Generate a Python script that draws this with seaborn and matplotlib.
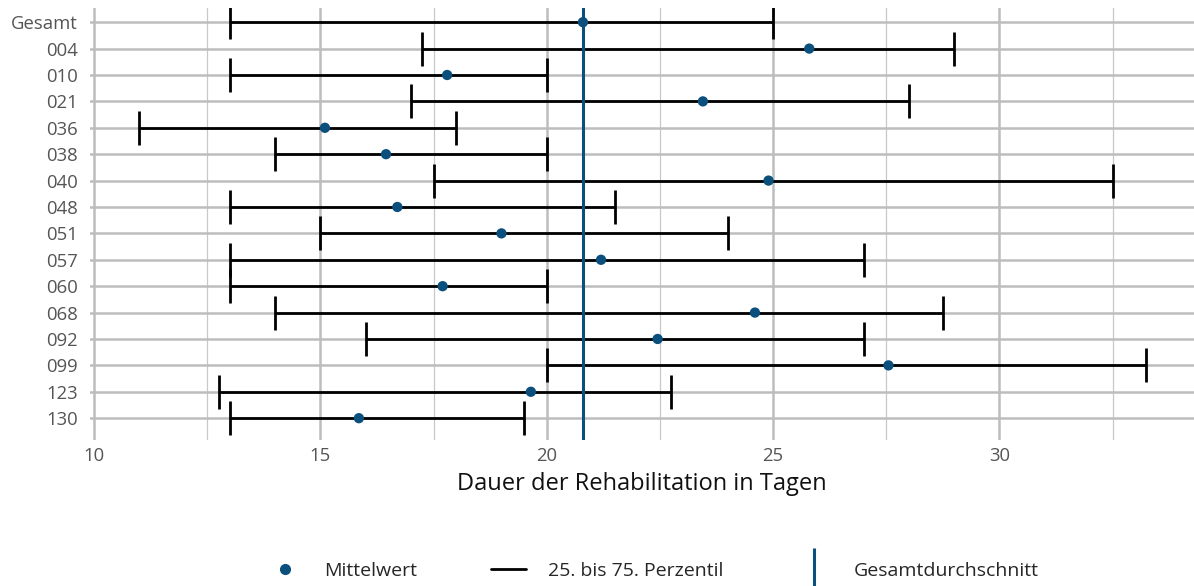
import numpy as np
import pandas as pd
import matplotlib
matplotlib.use("Agg")
import matplotlib.pyplot as plt
import seaborn as sns
from matplotlib.lines import Line2D

###############################################################################
# data
###############################################################################
kliniken = ["Gesamt", "004", "010", "021", "036", "038", "040", "048",
            "051", "057", "060", "068", "092", "099", "123", "130"]
p25 = [13.0, 17.25, 13.0, 17.0, 11.0, 14.0, 17.5, 13.0,
       15.0, 13.0, 13.0, 14.0, 16.0, 20.0, 12.75, 13.0]
p75 = [25.0, 29.0, 20.0, 28.0, 18.0, 20.0, 32.5, 21.5,
       24.0, 27.0, 20.0, 28.75, 27.0, 33.25, 22.75, 19.5]
mittelwert = [20.8, 25.8, 17.8, 23.45, 15.1, 16.45, 24.9, 16.7,
              19.0, 21.2, 17.7, 24.6, 22.45, 27.55, 19.65, 15.85]
gesamtdurchschnitt = 20.8

blau = "#0b4f7c"
grau = "#555555"

df = pd.DataFrame({"klinik": kliniken, "p25": p25, "p75": p75, "mw": mittelwert})
df["pos"] = np.arange(len(df))

###############################################################################
# plot
###############################################################################
sns.set_theme(style="white")
plt.rcParams["font.family"] = ["Open Sans", "DejaVu Sans"]

fig = plt.figure(figsize=(11.94, 5.86), dpi=100)
ax = fig.add_axes([0.075, 0.249, 0.925, 0.737])

# grid
for x in np.arange(10, 35, 5):
    ax.axvline(x, color="#bdbdbd", lw=1.8, zorder=0)
for x in np.arange(12.5, 35, 5):
    ax.axvline(x, color="#c8c8c8", lw=0.9, zorder=0)
for y in df["pos"]:
    ax.axhline(y, color="#bdbdbd", lw=1.8, zorder=0)

# 25. bis 75. Perzentil
mitte = (df["p25"] + df["p75"]) / 2
halb = (df["p75"] - df["p25"]) / 2
ax.errorbar(mitte, df["pos"], xerr=halb, fmt="none", ecolor="black",
            elinewidth=2, capsize=12, capthick=2, zorder=2)

# Gesamtdurchschnitt
ax.axvline(gesamtdurchschnitt, color=blau, lw=2.2, zorder=3)

# Mittelwert
sns.scatterplot(data=df, x="mw", y="pos", color=blau, s=55, edgecolor="none",
                zorder=4, ax=ax, legend=False)

ax.set_xlim(9.9, 34.3)
ax.set_ylim(15.83, -0.53)
ax.set_yticks(df["pos"])
ax.set_yticklabels(df["klinik"])
ax.set_xticks([10, 15, 20, 25, 30])
ax.tick_params(axis="both", length=0, labelsize=13.3, labelcolor=grau)
ax.tick_params(axis="y", pad=8.5)
ax.tick_params(axis="x", pad=5)
ax.set_xlabel("Dauer der Rehabilitation in Tagen", fontsize=17, color="#111111",
              labelpad=5)
ax.set_ylabel("")
sns.despine(ax=ax, left=True, bottom=True)

# legend
handles = [
    Line2D([], [], marker="o", color=blau, linestyle="none", markersize=7),
    Line2D([], [], color="black", lw=2),
    Line2D([], [], marker="|", color=blau, linestyle="none", markersize=30,
           markeredgewidth=2.2),
]
labels = ["Mittelwert", "25. bis 75. Perzentil", "Gesamtdurchschnitt"]
fig.legend(handles, labels, loc="lower center", bbox_to_anchor=(0.547, -0.02),
           ncol=3, frameon=False, fontsize=14, handlelength=1.8,
           columnspacing=3.8, handletextpad=1.1)

fig.savefig("out.png", dpi=100)
